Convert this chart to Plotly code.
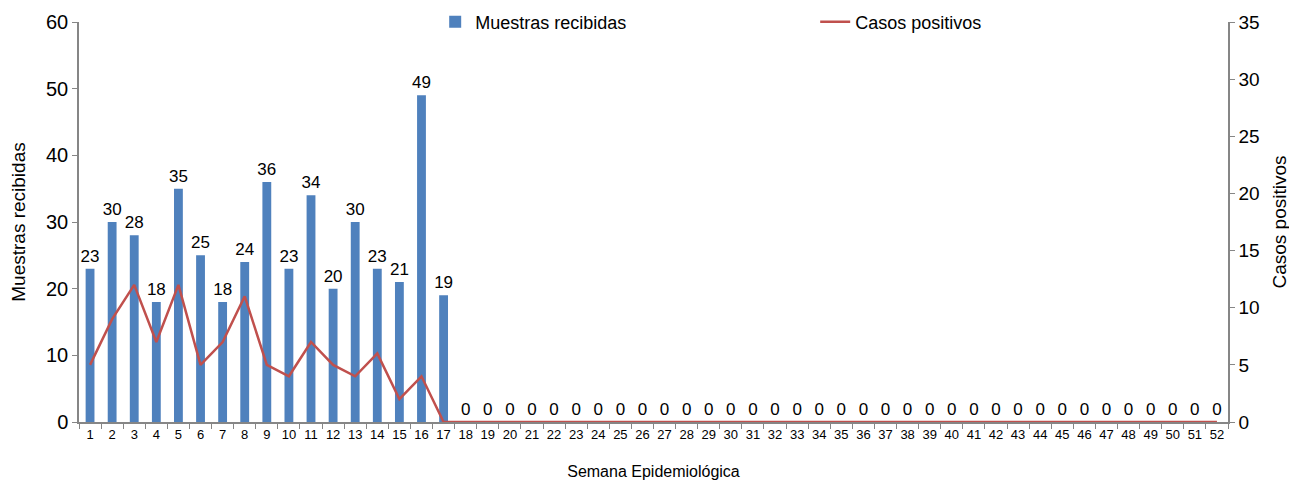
import plotly.graph_objects as go

weeks = [str(i) for i in range(1, 53)]
muestras = [23, 30, 28, 18, 35, 25, 18, 24, 36, 23, 34, 20, 30, 23, 21, 49, 19] + [0] * 35
casos = [5, 9, 12, 7, 12, 5, 7, 11, 5, 4, 7, 5, 4, 6, 2, 4, 0] + [0] * 35

FONT = "Liberation Sans, Arial, sans-serif"
AXIS_COLOR = "#868686"

fig = go.Figure()
fig.add_trace(go.Bar(
    x=weeks, y=muestras, name="Muestras recibidas",
    marker=dict(color="#4F81BD", line=dict(width=0)),
    text=[str(v) for v in muestras], textposition="outside",
    constraintext="none",
    textfont=dict(size=17, color="black", family=FONT),
    cliponaxis=False, yaxis="y",
))
fig.add_trace(go.Scatter(
    x=weeks, y=casos, name="Casos positivos", mode="lines",
    line=dict(color="#C0504D", width=2.5), yaxis="y2",
))

fig.update_layout(
    width=1297, height=485,
    margin=dict(l=71, r=77, t=14, b=71, autoexpand=False),
    plot_bgcolor="white", paper_bgcolor="white",
    font=dict(family=FONT, color="black"),
    bargap=0.6,
    showlegend=True,
    legend=dict(orientation="h", x=0.31, xanchor="left", y=1.0, yanchor="middle",
                font=dict(size=18), bgcolor="rgba(0,0,0,0)", entrywidth=335,
                traceorder="normal"),
    xaxis=dict(type="category", tickson="boundaries", ticks="outside", ticklen=5,
               tickcolor=AXIS_COLOR, showline=True, linecolor=AXIS_COLOR, linewidth=1.5,
               showgrid=False, tickfont=dict(size=13), tickangle=0,
               title=dict(text="Semana Epidemiológica", font=dict(size=16), standoff=24)),
    yaxis=dict(range=[0, 60], dtick=10, ticks="outside", ticklen=5, tickcolor=AXIS_COLOR,
               showline=True, linecolor=AXIS_COLOR, linewidth=1.5, showgrid=False,
               zeroline=False, tickfont=dict(size=20),
               title=dict(text="Muestras recibidas", font=dict(size=19), standoff=20)),
    yaxis2=dict(range=[0, 35], dtick=5, overlaying="y", side="right", ticks="outside",
                ticklen=5, tickcolor=AXIS_COLOR, showline=True, linecolor=AXIS_COLOR,
                linewidth=1.5, showgrid=False, zeroline=False, tickfont=dict(size=19),
                title=dict(text="Casos positivos", font=dict(size=19), standoff=14)),
)

fig.write_html("out.html")
